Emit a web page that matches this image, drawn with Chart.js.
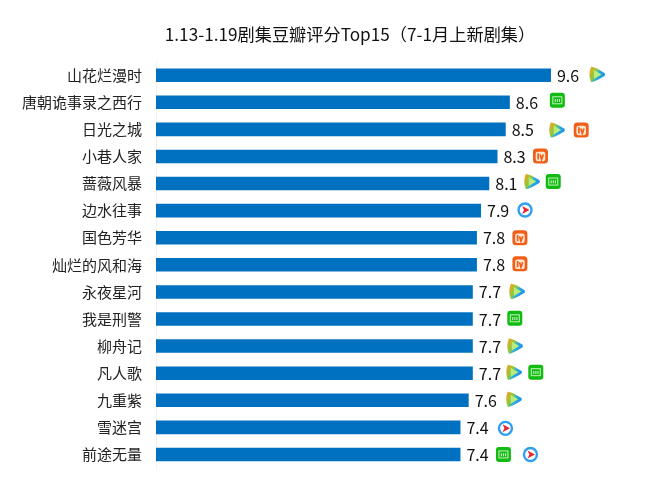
<!DOCTYPE html>
<html>
<head>
<meta charset="utf-8">
<script src="https://cdn.jsdelivr.net/npm/chart.js@4"></script>
<style>
html,body{margin:0;padding:0;background:#fff;}
#wrap{width:660px;height:491px;}
</style>
</head>
<body>
<div id="wrap"><canvas id="ratingChart" width="660" height="491"></canvas></div>
<script>
const titleText = "1.13-1.19剧集豆瓣评分Top15（7-1月上新剧集）";
const shows = ["山花烂漫时","唐朝诡事录之西行","日光之城","小巷人家","蔷薇风暴","边水往事","国色芳华","灿烂的风和海","永夜星河","我是刑警","柳舟记","凡人歌","九重紫","雪迷宫","前途无量"];
const ratings = [9.6,8.6,8.5,8.3,8.1,7.9,7.8,7.8,7.7,7.7,7.7,7.7,7.6,7.4,7.4];
const platforms = [["tencent"],["iqiyi"],["tencent","mango"],["mango"],["tencent","iqiyi"],["youku"],["mango"],["mango"],["tencent"],["iqiyi"],["tencent"],["tencent","iqiyi"],["tencent"],["youku"],["iqiyi","youku"]];

// icon spot relative to the end of each bar
const iconDx = [[46],[47.5],[51,75.5],[43],[42.5,64],[44],[43],[43],[44],[42],[42],[41,63],[45],[45],[43,70]];
const iconDy = [-0.8,-2,0.6,-0.5,-2,-0.6,0,-1,-0.5,-0.7,0,-1,-1,1,0];

const cjk = '"Noto Sans CJK SC","Noto Sans",sans-serif';

function roundBox(ctx,x,y,w,h,r,fill){
    ctx.beginPath();
    ctx.roundRect(x,y,w,h,r);
    ctx.fillStyle=fill;
    ctx.fill();
}

function drawTencent(ctx,x,y){
    let g=ctx.createLinearGradient(x-8,y-4,x+8,y+4);
    g.addColorStop(0,"#f7a11e");
    g.addColorStop(0.35,"#8fc93a");
    g.addColorStop(0.6,"#27a9e6");
    g.addColorStop(1,"#1d8be4");
    ctx.beginPath();
    ctx.moveTo(x-6,y-7.5);
    ctx.quadraticCurveTo(x-3,y-8,x+7.5,y-1.5);
    ctx.quadraticCurveTo(x+9,y,x+7.5,y+1.5);
    ctx.quadraticCurveTo(x-3,y+8,x-6,y+7.5);
    ctx.quadraticCurveTo(x-9,y,x-6,y-7.5);
    ctx.fillStyle=g;
    ctx.fill();
    ctx.beginPath();
    ctx.moveTo(x-3,y-4.5);
    ctx.lineTo(x+4.5,y);
    ctx.lineTo(x-3,y+4.5);
    ctx.closePath();
    ctx.fillStyle="#b9ec7a";
    ctx.fill();
}

function drawIqiyi(ctx,x,y){
    roundBox(ctx,x-7.5,y-7.5,15,15,3,"#12bb12");
    ctx.strokeStyle="#c4f2bb";
    ctx.lineWidth=1;
    ctx.strokeRect(x-4.5,y-3.5,9,7);
    ctx.fillStyle="#c4f2bb";
    ctx.fillRect(x-2.6,y-1.2,1.1,3);
    ctx.fillRect(x-0.5,y-1.2,1.1,3);
    ctx.fillRect(x+1.6,y-1.2,1.1,3);
}

function drawMango(ctx,x,y){
    roundBox(ctx,x-7.5,y-7.5,15,15,3.5,"#ef5f18");
    roundBox(ctx,x-4.8,y-4.3,9.6,9.6,2.2,"#fde6d2");
    ctx.lineWidth=1.7;
    ctx.strokeStyle="#ef5f18";
    ctx.beginPath();
    ctx.moveTo(x-2.3,y-2.8);
    ctx.lineTo(x-2.3,y+3.5);
    ctx.moveTo(x-0.4,y-1.5);
    ctx.lineTo(x+1.1,y+3.5);
    ctx.lineTo(x+2.8,y-1.5);
    ctx.stroke();
}

function drawYouku(ctx,x,y){
    ctx.beginPath();
    ctx.arc(x,y,6.5,0,Math.PI*2);
    ctx.fillStyle="#fff";
    ctx.fill();
    ctx.strokeStyle="#2f9ff0";
    ctx.lineWidth=2.4;
    ctx.stroke();
    ctx.beginPath();
    ctx.moveTo(x-3,y-4);
    ctx.lineTo(x+4.5,y);
    ctx.lineTo(x-3,y+4);
    ctx.lineTo(x-1,y);
    ctx.closePath();
    ctx.fillStyle="#e8232e";
    ctx.fill();
}

const iconDrawers = {tencent:drawTencent,iqiyi:drawIqiyi,mango:drawMango,youku:drawYouku};

// value labels and platform icons beside the bars
const barExtras = {
    id:"barExtras",
    afterDatasetsDraw(chart){
        const ctx=chart.ctx;
        const xs=chart.scales.x;
        const ys=chart.scales.y;
        ctx.save();
        ratings.forEach((v,i)=>{
            const end=xs.getPixelForValue(v);
            const mid=ys.getPixelForValue(i);
            ctx.font="16px "+cjk;
            ctx.fillStyle="#111";
            ctx.textAlign="left";
            ctx.textBaseline="middle";
            ctx.fillText(v.toFixed(1),end+6,mid+0.5);
            platforms[i].forEach((p,k)=>{
                iconDrawers[p](ctx,end+iconDx[i][k],mid+iconDy[i]);
            });
        });
        ctx.restore();
    }
};

new Chart(document.getElementById("ratingChart"),{
    type:"bar",
    data:{
        labels:shows,
        datasets:[{
            data:ratings,
            backgroundColor:"#0070c0",
            barPercentage:0.5,
            categoryPercentage:1
        }]
    },
    plugins:[barExtras],
    options:{
        indexAxis:"y",
        responsive:false,
        animation:false,
        // negative right padding moves the centred title over to the right
        layout:{padding:{left:0,right:-40,top:0,bottom:22}},
        plugins:{
            legend:{display:false},
            tooltip:{enabled:false},
            title:{
                display:true,
                text:titleText,
                color:"#111",
                font:{family:cjk,size:17.2,weight:"normal"},
                padding:{top:24,bottom:17}
            }
        },
        scales:{
            x:{
                display:false,
                min:0,
                max:12.25
            },
            y:{
                afterFit(scale){scale.width=156;},
                grid:{display:false,drawTicks:false},
                border:{color:"#f6eee8",width:1},
                ticks:{
                    color:"#222",
                    font:{family:cjk,size:15},
                    padding:14,
                    autoSkip:false
                }
            }
        }
    }
});
</script>
</body>
</html>
